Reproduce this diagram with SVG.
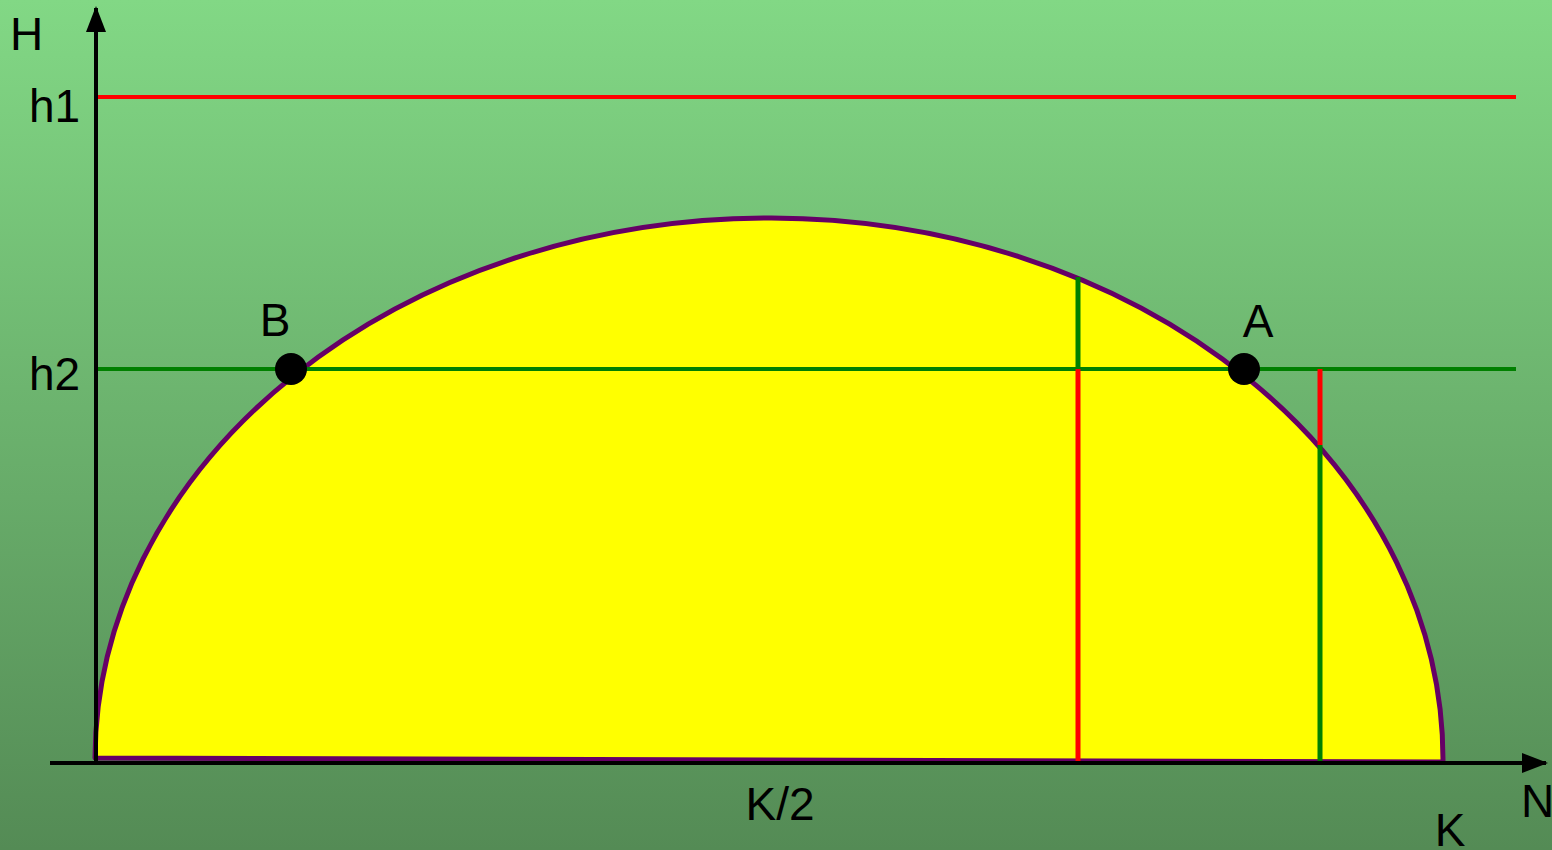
<svg xmlns="http://www.w3.org/2000/svg" width="1552" height="850" viewBox="0 0 1552 850">
  <defs>
    <linearGradient id="bg" x1="0" y1="0" x2="0" y2="1">
      <stop offset="0" stop-color="#82d885"/>
      <stop offset="1" stop-color="#548b55"/>
    </linearGradient>
    <marker id="arrow" markerWidth="26" markerHeight="20" refX="24" refY="10" orient="auto" markerUnits="userSpaceOnUse">
      <path d="M0,0 L26,10 L0,20 Z" fill="#000"/>
    </marker>
  </defs>
  <style>
    .lbl { font-family: "Liberation Sans", Arial, sans-serif; font-size: 46px; fill: #000; }
    .axis { stroke: #000; stroke-width: 4; fill: none; }
    .red { stroke: #ff0000; stroke-width: 4; fill: none; }
    .green { stroke: #008000; stroke-width: 4; fill: none; }
    .v { stroke-width: 5; }
    .dot { fill: #000; }
  </style>
  <rect x="0" y="0" width="1552" height="850" fill="url(#bg)"/>

  <g id="region">
    <path d="M95,758 A674,542 0 0 1 1443,762 Z" fill="#ffff00" stroke="#660066" stroke-width="5" stroke-linejoin="round"/>
  </g>

  <g id="connectors">
    <line id="h1-line" class="red" x1="96" y1="97" x2="1516" y2="97"/>
    <line id="h2-line" class="green" x1="96" y1="369" x2="1516" y2="369"/>
    <line class="green v" x1="1078" y1="277" x2="1078" y2="369"/>
    <line class="red v" x1="1078" y1="369" x2="1078" y2="763"/>
    <line class="red v" x1="1320" y1="369" x2="1320" y2="445"/>
    <line class="green v" x1="1320" y1="445" x2="1320" y2="763"/>
    <line id="y-axis" class="axis" x1="96" y1="765" x2="96" y2="8" marker-end="url(#arrow)"/>
    <line id="x-axis" class="axis" stroke-width="3" x1="50" y1="763" x2="1546" y2="763" marker-end="url(#arrow)"/>
  </g>

  <g id="point-B">
    <circle class="dot" cx="291" cy="369" r="16"/>
    <text class="lbl" x="275" y="336" text-anchor="middle">B</text>
  </g>
  <g id="point-A">
    <circle class="dot" cx="1244" cy="369" r="16"/>
    <text class="lbl" x="1258" y="337" text-anchor="middle">A</text>
  </g>

  <g id="labels">
    <text class="lbl" x="10" y="50">H</text>
    <text class="lbl" x="29" y="122">h1</text>
    <text class="lbl" x="29" y="390">h2</text>
    <text class="lbl" x="780" y="820" text-anchor="middle">K/2</text>
    <text class="lbl" x="1450" y="846" text-anchor="middle">K</text>
    <text class="lbl" x="1521" y="817">N</text>
  </g>
</svg>
